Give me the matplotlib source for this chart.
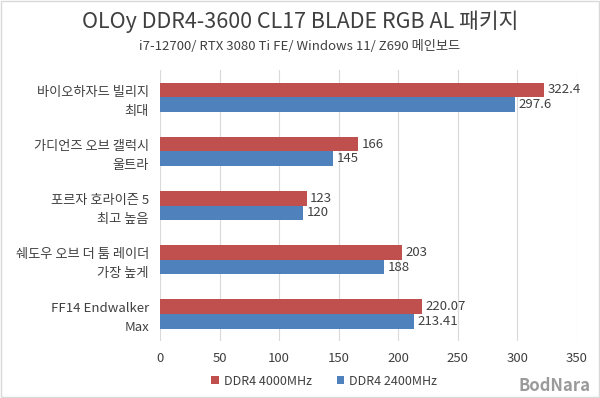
import matplotlib.pyplot as plt
import numpy as np

plt.rcParams['font.family'] = ['Noto Sans CJK KR', 'DejaVu Sans']

categories = ['바이오하자드 빌리지\n최대', '가디언즈 오브 갤럭시\n울트라', '포르자 호라이즌 5\n최고 높음',
              '쉐도우 오브 더 툼 레이더\n가장 높게', 'FF14 Endwalker\nMax']
ddr4_4000 = [322.4, 166, 123, 203, 220.07]
ddr4_2400 = [297.6, 145, 120, 188, 213.41]
labels_4000 = ['322.4', '166', '123', '203', '220.07']
labels_2400 = ['297.6', '145', '120', '188', '213.41']

red = '#C0504D'
blue = '#4F81BD'
txt = '#404040'

fig = plt.figure(figsize=(6, 3.98), dpi=100)
ax = fig.add_axes([0.2667, 0.143, 0.695, 0.681])

y = np.arange(len(categories))
h = 0.27
ax.barh(y - h / 2, ddr4_4000, height=h, color=red, label='DDR4 4000MHz', zorder=3)
ax.barh(y + h / 2, ddr4_2400, height=h, color=blue, label='DDR4 2400MHz', zorder=3)

for i in range(len(categories)):
    ax.text(ddr4_4000[i] + 3, y[i] - h / 2, labels_4000[i], va='center', ha='left', fontsize=9.5, color=txt)
    ax.text(ddr4_2400[i] + 3, y[i] + h / 2, labels_2400[i], va='center', ha='left', fontsize=9.5, color=txt)

ax.set_xlim(0, 350)
ax.set_xticks(np.arange(0, 351, 50))
ax.set_ylim(len(categories) - 0.5, -0.5)
ax.set_yticks(y)
ax.set_yticklabels(categories, fontsize=9.5, color=txt, linespacing=1.6)
ax.tick_params(axis='both', length=0, pad=8, colors=txt, labelsize=9.5)
ax.grid(axis='x', color='#D9D9D9', linewidth=0.8, zorder=0)
for s in ax.spines.values():
    s.set_visible(False)

# titles
fig.text(0.5, 0.945, 'OLOy DDR4-3600 CL17 BLADE RGB AL 패키지', ha='center', va='center',
         fontsize=15.5, fontweight='light', color='#404040')
fig.text(0.5, 0.882, 'i7-12700/ RTX 3080 Ti FE/ Windows 11/ Z690 메인보드', ha='center', va='center',
         fontsize=9.5, color='#404040')

leg = fig.legend(loc='center', bbox_to_anchor=(0.54, 0.042), ncol=2, frameon=False, fontsize=9,
                 handlelength=0.6, handleheight=0.6, handletextpad=0.4, columnspacing=2.0)
for t in leg.get_texts():
    t.set_color(txt)

fig.text(0.985, 0.03, 'BodNara', ha='right', va='center', fontsize=12, fontweight='bold', color='#9A9A9A')

fig.patches.append(plt.Rectangle((0.002, 0.002), 0.996, 0.996, transform=fig.transFigure,
                                 fill=False, edgecolor='#D9D9D9', linewidth=1))

fig.savefig('out.png', dpi=100)
